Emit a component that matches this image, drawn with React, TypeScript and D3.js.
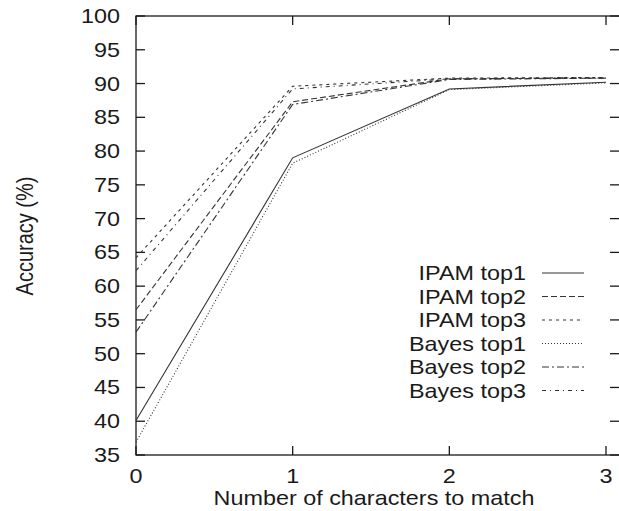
import React from "react";
import * as d3 from "d3";

const xCategories = [0, 1, 2, 3];
const seriesNames = ["IPAM top1", "IPAM top2", "IPAM top3", "Bayes top1", "Bayes top2", "Bayes top3"];
const ipamTop1 = [40.1, 79.0, 89.2, 90.2];
const ipamTop2 = [56.5, 87.3, 90.7, 90.8];
const ipamTop3 = [64.2, 89.6, 90.8, 90.9];
const bayesTop1 = [36.9, 78.2, 89.1, 90.1];
const bayesTop2 = [53.2, 86.9, 90.6, 90.8];
const bayesTop3 = [62.3, 89.2, 90.7, 90.9];
const yTicks = [35, 40, 45, 50, 55, 60, 65, 70, 75, 80, 85, 90, 95, 100];
const xTicks = [0, 1, 2, 3];

const seriesValues = [ipamTop1, ipamTop2, ipamTop3, bayesTop1, bayesTop2, bayesTop3];
const dashes = ["", "6,3", "3,4", "1,2", "7,3,2,3", "4,4,1,4"];

const W = 619;
const H = 511;
const left = 136;
const right = 620;
const top = 16;
const bottom = 455;
const x3 = 606;
const SX = 1.17;
const FONT = "'Liberation Sans', Arial, Helvetica, sans-serif";
const FS = 20;

export default function App() {
  const x = d3.scaleLinear().domain([0, 3]).range([left, x3]);
  const y = d3.scaleLinear().domain([35, 100]).range([bottom, top]);
  const line = d3
    .line<number>()
    .x((_, i) => x(xCategories[i]))
    .y((d) => y(d));
  const tick = 9;
  const ink = "#1a1a1a";
  const legendX = 526;
  const legendY0 = 280;
  const legendStep = 23.5;

  return (
    <svg
      width={W}
      height={H}
      style={{ position: "absolute", left: 0, top: 0, background: "#fff" }}
      fontFamily={FONT}
      fontSize={FS}
    >
      <rect x={0} y={0} width={W} height={H} fill="#fff" />
      <rect x={left} y={top} width={right - left} height={bottom - top} fill="none" stroke={ink} strokeWidth={1.3} />
      {yTicks.map((t) => (
        <g key={"y" + t}>
          <line x1={left} x2={left + tick} y1={y(t)} y2={y(t)} stroke={ink} strokeWidth={1.3} />
          <line x1={right} x2={right - tick - 1} y1={y(t)} y2={y(t)} stroke={ink} strokeWidth={1.3} />
          <text
            transform={`translate(${left - 16},${y(t) + 7}) scale(${SX},1)`}
            textAnchor="end"
            fill={ink}
          >
            {t}
          </text>
        </g>
      ))}
      {xTicks.map((t) => (
        <g key={"x" + t}>
          <line x1={x(t)} x2={x(t)} y1={bottom} y2={bottom - tick} stroke={ink} strokeWidth={1.3} />
          <line x1={x(t)} x2={x(t)} y1={top} y2={top + tick} stroke={ink} strokeWidth={1.3} />
          <text transform={`translate(${x(t)},${bottom + 28}) scale(${SX},1)`} textAnchor="middle" fill={ink}>
            {t}
          </text>
        </g>
      ))}
      <text transform={`translate(374,505) scale(${SX},1)`} textAnchor="middle" fill={ink}>
        Number of characters to match
      </text>
      <text transform={`translate(33,236) scale(${SX},1) rotate(-90)`} textAnchor="middle" fill={ink}>
        Accuracy (%)
      </text>
      {seriesValues.map((vals, i) => (
        <path
          key={"s" + i}
          d={line(vals) || ""}
          fill="none"
          stroke="#333"
          strokeWidth={1.1}
          strokeDasharray={dashes[i] || undefined}
        />
      ))}
      {seriesNames.map((name, i) => {
        const by = legendY0 + i * legendStep;
        return (
          <g key={"l" + i}>
            <text transform={`translate(${legendX},${by}) scale(${SX},1)`} textAnchor="end" fill={ink}>
              {name}
            </text>
            <line
              x1={542}
              x2={584}
              y1={by - 7}
              y2={by - 7}
              stroke="#333"
              strokeWidth={1.1}
              strokeDasharray={dashes[i] || undefined}
            />
          </g>
        );
      })}
    </svg>
  );
}
